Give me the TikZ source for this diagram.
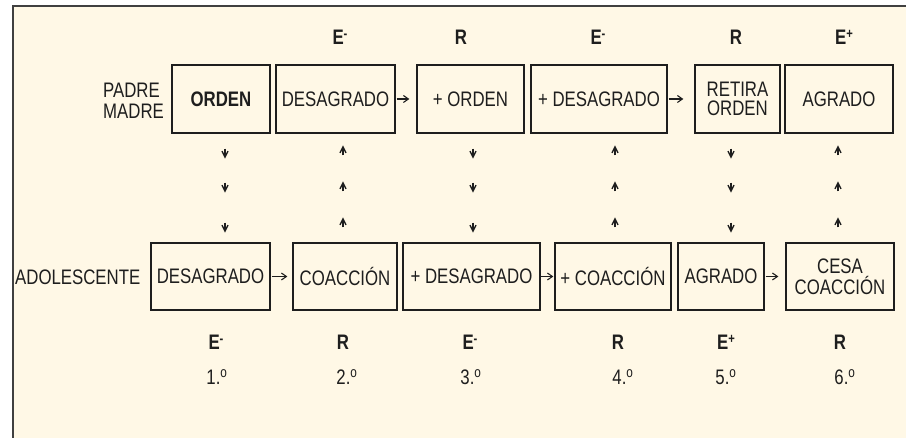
\documentclass[tikz,border=0pt]{standalone}
\usepackage{fontspec}
\setmainfont{Liberation Sans}[FakeStretch=0.8]
\usetikzlibrary{arrows.meta,decorations.markings,calc}
\definecolor{cream}{HTML}{FFF8E6}
\definecolor{ink}{HTML}{1E1E1E}
\definecolor{framec}{HTML}{404040}
\newcommand{\myvhead}{\draw[ink,line width=1.4pt,-{Straight Barb[length=6pt,width=6pt]}] (-10pt,0) -- (0,0);}
\newcommand{\mysup}[1]{\raisebox{6pt}{\fontsize{14}{14}\selectfont\bfseries #1}}
\begin{document}
\begin{tikzpicture}[x=1pt,y=-1pt,
  txt/.style={font=\fontsize{21}{22}\selectfont,text=ink,inner sep=0pt},
  box/.style={txt,draw=ink,line width=1.3pt,align=center,minimum height=68pt},
  lbl/.style={txt,font=\fontsize{21}{22}\selectfont\bfseries},
  harrow/.style={draw=ink,line width=1.1pt,-{Straight Barb[length=5pt,width=7pt]}},
  vdown/.style={postaction={decorate},decoration={markings,
     mark=at position 25pt with {\myvhead},
     mark=at position 59pt with {\myvhead},
     mark=at position 99pt with {\myvhead}}},
  vup/.style={postaction={decorate},decoration={markings,
     mark=at position 25pt with {\myvhead},
     mark=at position 61pt with {\myvhead},
     mark=at position 97pt with {\myvhead}}}
]
\useasboundingbox (0,0) rectangle (906,438);
\fill[white] (0,0) rectangle (906,438);
\fill[cream] (13,6) rectangle (906,438);
\draw[framec,line width=1.5pt] (13,438) -- (13,6) -- (906,6);

% side labels
\node[txt,align=left,anchor=west] (pm) at (103,101) {PADRE\\[-1pt]MADRE};
\node[txt,anchor=west] (ado) at (15,277) {ADOLESCENTE};

% top row
\node[box,minimum width=98pt] (t1) at (221,99) {\textbf{ORDEN}};
\node[box,minimum width=119pt] (t2) at (335.5,99) {DESAGRADO};
\node[box,minimum width=107pt] (t3) at (470.5,99) {+ ORDEN};
\node[box,minimum width=136pt] (t4) at (599,99) {+ DESAGRADO};
\node[box,minimum width=85pt] (t5) at (737.5,99) {RETIRA\\[-3pt]ORDEN};
\node[box,minimum width=108pt] (t6) at (839,99) {AGRADO};

% bottom row
\node[box,minimum width=119pt,minimum height=67pt] (b1) at (210.5,276.5) {DESAGRADO};
\node[box,minimum width=104pt,minimum height=67pt] (b2) at (345,276.5) {COACCIÓN};
\node[box,minimum width=137pt,minimum height=67pt] (b3) at (471.5,276.5) {+ DESAGRADO};
\node[box,minimum width=116pt,minimum height=67pt] (b4) at (613,276.5) {+ COACCIÓN};
\node[box,minimum width=86pt,minimum height=67pt] (b5) at (721,276.5) {AGRADO};
\node[box,minimum width=108pt,minimum height=67pt] (b6) at (840,276.5) {CESA\\[-1pt]COACCIÓN};

% top labels
\node[lbl] (lt2) at (340,37) {E\mysup{-}};
\node[lbl] (lt3) at (461,37) {R};
\node[lbl] (lt4) at (598,37) {E\mysup{-}};
\node[lbl] (lt5) at (736,37) {R};
\node[lbl] (lt6) at (844,37) {E\mysup{+}};

% bottom labels
\node[lbl] (lb1) at (216,342) {E\mysup{-}};
\node[lbl] (lb2) at (343,342) {R};
\node[lbl] (lb3) at (470,342) {E\mysup{-}};
\node[lbl] (lb4) at (618,342) {R};
\node[lbl] (lb5) at (726,342) {E\mysup{+}};
\node[lbl] (lb6) at (840,342) {R};

% step numbers
\node[txt] (n1) at (217,377) {1.\textsuperscript{o}};
\node[txt] (n2) at (347,377) {2.\textsuperscript{o}};
\node[txt] (n3) at (471,377) {3.\textsuperscript{o}};
\node[txt] (n4) at (623,377) {4.\textsuperscript{o}};
\node[txt] (n5) at (726,377) {5.\textsuperscript{o}};
\node[txt] (n6) at (845,377) {6.\textsuperscript{o}};

% horizontal arrows
\draw[harrow,shorten <=1pt,shorten >=7pt] (t2.east) -- (t3.west);
\draw[harrow,shorten <=1pt,shorten >=11pt] (t4.east) -- (t5.west);
\draw[harrow,shorten <=1pt,shorten >=5pt] (b1.east) -- (b2.west);
\draw[harrow,shorten <=0pt,shorten >=1pt] (b3.east) -- (b4.west);
\draw[harrow,shorten <=1pt,shorten >=7pt] (b5.east) -- (b6.west);

% vertical dotted arrows
\coordinate (c1) at (225,0);
\coordinate (c2) at (343,0);
\coordinate (c3) at (473,0);
\coordinate (c4) at (615,0);
\coordinate (c5) at (731,0);
\coordinate (c6) at (838,0);
\path[vdown] (t1.south -| c1) -- (b1.north -| c1);
\path[vup] (b2.north -| c2) -- (t2.south -| c2);
\path[vdown] (t3.south -| c3) -- (b3.north -| c3);
\path[vup] (b4.north -| c4) -- (t4.south -| c4);
\path[vdown] (t5.south -| c5) -- (b5.north -| c5);
\path[vup] (b6.north -| c6) -- (t6.south -| c6);
\end{tikzpicture}
\end{document}
